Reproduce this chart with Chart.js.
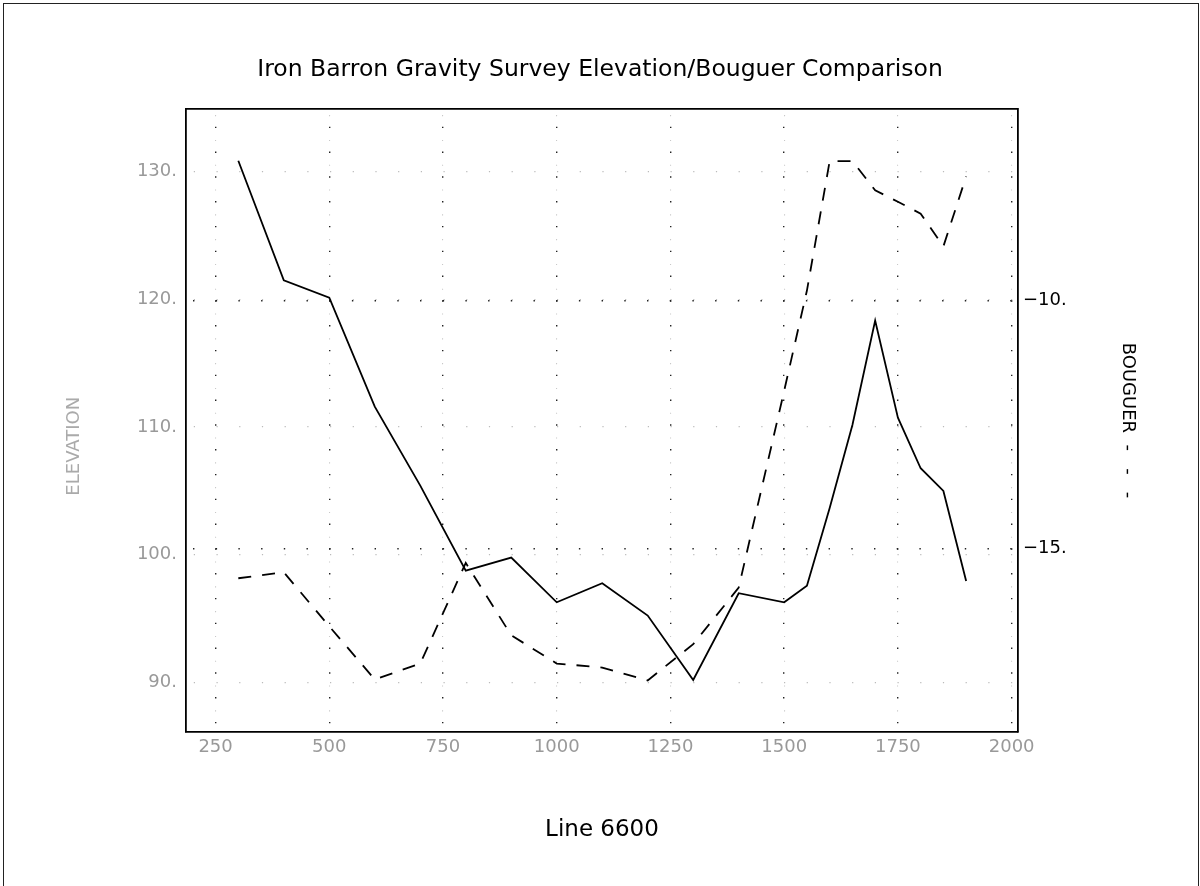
<!DOCTYPE html>
<html lang="en">
<head>
    <meta charset="UTF-8">
    <title>Iron Barron Gravity Survey</title>
    <script src="https://cdn.jsdelivr.net/npm/chart.js"></script>
    <style>
        html, body { margin: 0; padding: 0; background: #fff; overflow: hidden; }
        #wrap { position: relative; width: 1200px; height: 886px; }
        #frame { position: absolute; left: 3px; top: 3px; width: 1194px; height: 900px;
                 border: 1.5px solid #222; pointer-events: none; }
    </style>
</head>
<body>
<div id="wrap">
    <canvas id="chartCanvas" width="1200" height="886"></canvas>
    <div id="frame"></div>
</div>
<script>
    // station positions along line 6600
    const stations = [300, 400, 500, 600, 700, 800, 900, 1000, 1100, 1200, 1300, 1400, 1500,
                      1550, 1600, 1650, 1700, 1750, 1800, 1850, 1900];
    const elevation = [130.85, 121.48, 120.12, 111.58, 105.4, 98.74, 99.76, 96.26, 97.75, 95.22, 90.18,
                       96.97, 96.26, 97.56, 103.65, 110.15, 118.32, 110.72, 106.76, 104.98, 97.93];
    const bouguer = [-15.60, -15.48, -16.57, -17.64, -17.32, -15.29, -16.75, -17.32, -17.40, -17.66, -16.93,
                     -15.79, -11.82, -9.8, -7.19, -7.19, -7.78, -8.01, -8.25, -8.91, -7.5];

    const font = 'DejaVu Sans';

    new Chart(document.getElementById('chartCanvas'), {
        type: 'line',
        data: {
            datasets: [{
                label: 'ELEVATION',
                data: stations.map((s, i) => ({ x: s, y: elevation[i] })),
                yAxisID: 'y',
                borderColor: '#000',
                borderWidth: 1.8,
                pointRadius: 0,
                tension: 0
            }, {
                label: 'BOUGUER',
                data: stations.map((s, i) => ({ x: s, y: bouguer[i] })),
                yAxisID: 'y1',
                borderColor: '#000',
                borderWidth: 1.8,
                borderDash: [13, 11],
                pointRadius: 0,
                tension: 0
            }]
        },
        options: {
            responsive: false,
            animation: false,
            layout: { padding: 0 },
            plugins: {
                legend: { display: false },
                tooltip: { enabled: false },
                title: {
                    display: true,
                    text: 'Iron Barron Gravity Survey Elevation/Bouguer Comparison',
                    color: '#000',
                    font: { family: font, size: 23.5, weight: 'normal' },
                    padding: { top: 56, bottom: 24.8 }
                }
            },
            scales: {
                x: {
                    type: 'linear',
                    position: 'bottom',
                    min: 185,
                    max: 2014,
                    afterFit: s => { s.height = 154; },
                    ticks: {
                        stepSize: 250,
                        includeBounds: false,
                        autoSkip: false,
                        color: '#999',
                        padding: 5,
                        maxRotation: 0,
                        font: { family: font, size: 18 },
                        callback: v => String(v)
                    },
                    grid: { color: '#222', lineWidth: 1.4, drawTicks: false },
                    border: { display: true, color: '#000', width: 1.8, dash: [1.4, 23.4], dashOffset: 7.1 },
                    title: {
                        display: true,
                        text: 'Line 6600',
                        color: '#000',
                        font: { family: font, size: 23 },
                        padding: { top: 0, bottom: 42 }
                    }
                },
                x2: {
                    type: 'linear',
                    position: 'top',
                    min: 185,
                    max: 2014,
                    afterFit: s => { s.height = 0; },
                    ticks: { display: false, stepSize: 250, includeBounds: false, autoSkip: false },
                    grid: { color: '#c8c8c8', lineWidth: 1.1, drawTicks: false },
                    border: { display: true, color: '#000', width: 1.8, dash: [1.1, 23.7], dashOffset: 19.5 }
                },
                y: {
                    type: 'linear',
                    position: 'left',
                    min: 86.1,
                    max: 134.9,
                    afterFit: s => { s.width = 186; },
                    ticks: {
                        stepSize: 10,
                        includeBounds: false,
                        color: '#999',
                        padding: 9,
                        font: { family: font, size: 18 },
                        callback: v => v + '.'
                    },
                    grid: { color: '#bbb', lineWidth: 1.2, drawTicks: false },
                    border: { display: true, color: '#000', width: 1.8, dash: [1.2, 21.5], dashOffset: 15.7 },
                    title: {
                        display: true,
                        text: 'ELEVATION         ',
                        color: '#aaa',
                        font: { family: font, size: 18 },
                        padding: { top: 64 }
                    }
                },
                y1: {
                    type: 'linear',
                    position: 'right',
                    min: -18.70,
                    max: -6.14,
                    afterFit: s => { s.width = 182; },
                    ticks: {
                        stepSize: 5,
                        includeBounds: false,
                        color: '#000',
                        padding: 5,
                        font: { family: font, size: 18 },
                        callback: v => '\u2212' + Math.abs(v) + '.'
                    },
                    grid: { color: '#222', lineWidth: 1.4, drawTicks: false },
                    border: { display: true, color: '#000', width: 1.8, dash: [1.4, 21.3], dashOffset: 15.7 },
                    title: {
                        display: true,
                        text: 'BOUGUER  -   -   -',
                        color: '#000',
                        font: { family: font, size: 18 },
                        padding: { top: 62 }
                    }
                }
            }
        }
    });
</script>
</body>
</html>
